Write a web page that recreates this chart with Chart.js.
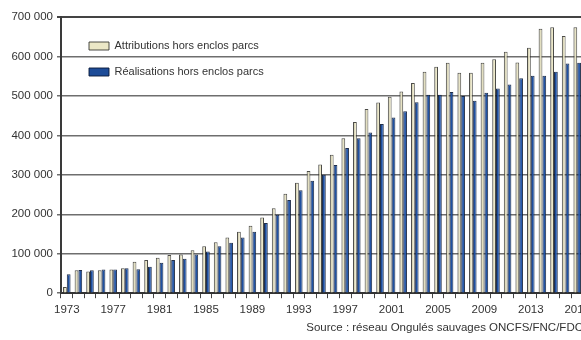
<!DOCTYPE html>
<html>
<head>
<meta charset="utf-8">
<script src="https://cdn.jsdelivr.net/npm/chart.js@4/dist/chart.umd.min.js"></script>
<style>
  html, body { margin: 0; padding: 0; background: #fff; overflow: hidden; }
  #wrap { width: 600px; height: 340px; }
</style>
</head>
<body>
<div id="wrap"><canvas id="chart" width="600" height="340"></canvas></div>
<script>
// Campaign years
const years = [
  1973, 1974, 1975, 1976, 1977, 1978, 1979, 1980, 1981, 1982,
  1983, 1984, 1985, 1986, 1987, 1988, 1989, 1990, 1991, 1992,
  1993, 1994, 1995, 1996, 1997, 1998, 1999, 2000, 2001, 2002,
  2003, 2004, 2005, 2006, 2007, 2008, 2009, 2010, 2011, 2012,
  2013, 2014, 2015, 2016, 2017
];

// Attributions hors enclos parcs
const attributions = [
  16000, 58000, 55000, 58000, 60000, 63000, 80000, 84000, 90000, 97000,
  98000, 109000, 119000, 129000, 141000, 156000, 171000, 192000, 215000, 252000,
  280000, 310000, 326000, 351000, 393000, 434000, 467000, 483000, 498000, 511000,
  533000, 561000, 574000, 584000, 559000, 559000, 584000, 593000, 612000, 585000,
  622000, 670000, 674000, 652000, 674000
];

// Réalisations hors enclos parcs
const realisations = [
  48000, 59000, 58000, 60000, 60000, 63000, 61000, 67000, 77000, 84000,
  87000, 98000, 106000, 119000, 128000, 141000, 156000, 178000, 199000, 236000,
  261000, 285000, 300000, 325000, 368000, 393000, 407000, 429000, 445000, 461000,
  484000, 503000, 503000, 510000, 500000, 488000, 508000, 519000, 529000, 545000,
  551000, 551000, 561000, 582000, 584000
];

// Labelled years on the horizontal axis
const xTickLabels = ['1973', '1977', '1981', '1985', '1989', '1993', '1997', '2001', '2005', '2009', '2013', '2017'];

// Values on the vertical axis
const yTickValues = [0, 100000, 200000, 300000, 400000, 500000, 600000, 700000];

const CAT_PCT = 0.65;
const FONT = "'Liberation Sans', Arial, sans-serif";

// Shaded fill that gives each bar a rounded, cylinder-like look
function barFill(flat, stops) {
  return (ctx) => {
    if (ctx.type !== 'data') return flat;
    const chart = ctx.chart;
    const xs = chart.scales.x;
    if (!xs || !xs.width) return flat;
    const center = xs.getPixelForValue(ctx.dataIndex);
    const barW = (xs.width / years.length) * CAT_PCT / 2;
    const left = ctx.datasetIndex === 0 ? center - barW : center;
    const g = chart.ctx.createLinearGradient(left, 0, left + barW, 0);
    stops.forEach(([o, c]) => g.addColorStop(o, c));
    return g;
  };
}

const fmt = (v) => String(v).replace(/\B(?=(\d{3})+(?!\d))/g, ' ');

// Places the legend inside the plot, near its top-left corner
const legendInPlot = {
  id: 'legendInPlot',
  afterLayout(chart) {
    const l = chart.legend;
    const a = chart.chartArea;
    if (!l) return;
    l.left = a.left + 13;
    l.top = a.top + 8.5;
    l.right = a.right;
    l.bottom = a.bottom;
  }
};

new Chart(document.getElementById('chart'), {
  type: 'bar',
  data: {
    labels: years.map(String),
    datasets: [
      {
        label: 'Attributions hors enclos parcs',
        data: attributions,
        backgroundColor: barFill('#f1edc9', [[0, '#8f8b78'], [0.35, '#d6d2b4'], [0.7, '#f5f1d2'], [1, '#ebe7c6']]),
        borderColor: 'rgba(45,45,40,0.85)',
        borderWidth: 1
      },
      {
        label: 'Réalisations hors enclos parcs',
        data: realisations,
        backgroundColor: barFill('#1f4f9f', [[0, '#0c2552'], [0.35, '#1c4c9a'], [0.7, '#2559ad'], [1, '#1d4c98']]),
        borderColor: 'rgba(10,25,55,0.9)',
        borderWidth: 1
      }
    ]
  },
  options: {
    responsive: false,
    animation: false,
    devicePixelRatio: 1,
    layout: { padding: { top: 17, right: 17, bottom: 3, left: 0 } },
    datasets: { bar: { categoryPercentage: CAT_PCT, barPercentage: 1.0 } },
    scales: {
      x: {
        offset: true,
        afterFit: (s) => { s.height = 24; },
        grid: {
          display: true,
          offset: true,
          drawOnChartArea: false,
          drawTicks: true,
          tickLength: 5,
          color: '#444',
          lineWidth: 1
        },
        border: { display: true, color: '#333', width: 2 },
        ticks: {
          autoSkip: false,
          maxRotation: 0,
          minRotation: 0,
          padding: 5,
          color: '#333',
          font: { family: FONT, size: 11.5 },
          callback: (v, i) => (xTickLabels.includes(String(years[i])) ? String(years[i]) : '')
        }
      },
      y: {
        min: 0,
        max: 700000,
        afterFit: (s) => { s.width = 61; },
        afterBuildTicks: (s) => { s.ticks = yTickValues.map((v) => ({ value: v })); },
        grid: {
          color: (c) => (c.tick && c.tick.value === 700000 ? '#444' : '#6e6e6e'),
          lineWidth: (c) => (c.tick && c.tick.value === 700000 ? 2 : 1.5),
          tickLength: 4,
          drawTicks: true
        },
        border: { display: true, color: '#3a3a3a', width: 2 },
        ticks: {
          padding: 4,
          color: '#333',
          font: { family: FONT, size: 11.5 },
          callback: (v) => fmt(v)
        }
      }
    },
    plugins: {
      legend: {
        position: 'chartArea',
        align: 'start',
        labels: {
          boxWidth: 20,
          boxHeight: 8,
          padding: 15,
          color: '#333',
          font: { family: FONT, size: 11 }
        }
      },
      title: {
        display: true,
        position: 'bottom',
        align: 'end',
        text: 'Source : réseau Ongulés sauvages ONCFS/FNC/FDC',
        color: '#333',
        font: { family: FONT, size: 11.5, weight: 'normal' },
        padding: { top: 4, bottom: 2 }
      },
      tooltip: { enabled: false }
    }
  },
  plugins: [legendInPlot]
});
</script>
</body>
</html>
